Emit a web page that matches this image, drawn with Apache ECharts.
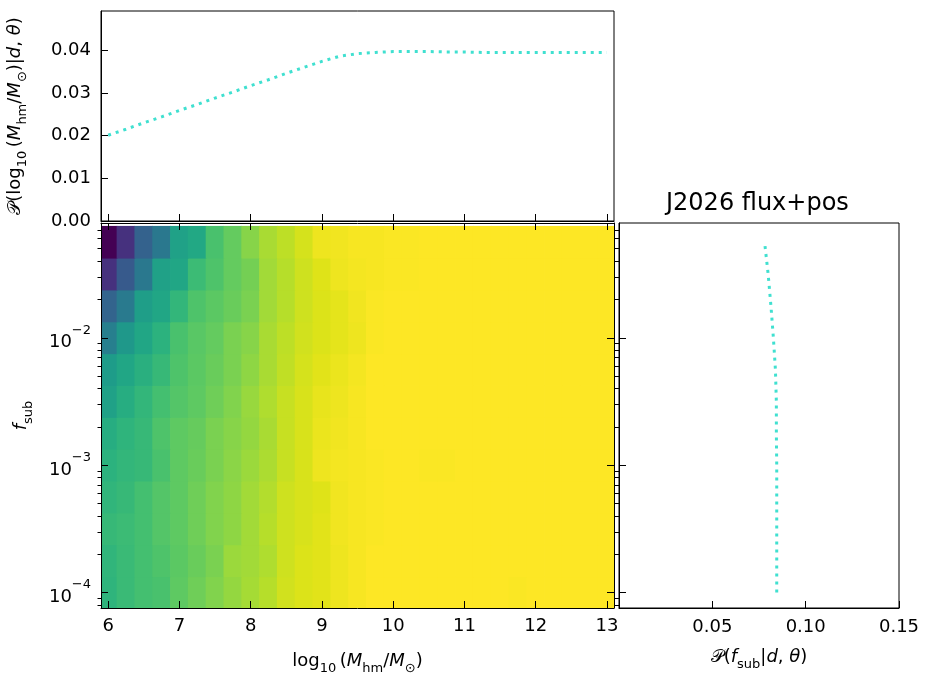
<!DOCTYPE html>
<html><head><meta charset="utf-8">
<script src="https://cdn.jsdelivr.net/npm/echarts@6/dist/echarts.min.js"></script>
<style>html,body{margin:0;padding:0;background:#fff}#c{width:926px;height:675px}</style>
</head><body><div id="c"></div>
<script>
// ---------------- data ----------------
const logMhmCenters = [6.00,6.25,6.50,6.75,7.00,7.25,7.50,7.75,8.00,8.25,8.50,8.75,9.00,9.25,9.50,9.75,10.00,10.25,10.50,10.75,11.00,11.25,11.50,11.75,12.00,12.25,12.50,12.75,13.00];
const log10FsubCenters = [-4.00,-3.75,-3.50,-3.25,-3.00,-2.75,-2.50,-2.25,-2.00,-1.75,-1.50,-1.25];
// heat rows, bottom (f_sub = 1e-4) to top
const heatRow0  = [0.65,0.675,0.70,0.71,0.75,0.78,0.81,0.84,0.865,0.89,0.93,0.945,0.955,0.975,0.99,1,1,1,1,1,1,1,1,0.995,1,1,1,1,1];
const heatRow1  = [0.655,0.675,0.70,0.72,0.745,0.77,0.80,0.85,0.86,0.88,0.925,0.945,0.955,0.975,0.99,1,1,1,1,1,1,1,1,1,1,1,1,1,1];
const heatRow2  = [0.67,0.68,0.70,0.73,0.75,0.78,0.81,0.83,0.86,0.89,0.925,0.94,0.955,0.98,0.99,0.995,1,1,1,1,1,1,1,1,1,1,1,1,1];
const heatRow3  = [0.655,0.67,0.70,0.73,0.75,0.78,0.81,0.83,0.86,0.885,0.925,0.94,0.95,0.98,0.99,0.995,1,1,1,1,1,1,1,1,1,1,1,1,1];
const heatRow4  = [0.64,0.66,0.67,0.71,0.75,0.77,0.80,0.825,0.85,0.875,0.915,0.94,0.975,0.985,0.99,0.995,1,1,0.995,0.995,1,1,1,1,1,1,1,1,1];
const heatRow5  = [0.62,0.65,0.67,0.72,0.75,0.765,0.80,0.82,0.84,0.87,0.915,0.94,0.97,0.98,0.99,1,1,1,1,1,1,1,1,1,1,1,1,1,1];
const heatRow6  = [0.57,0.62,0.66,0.70,0.73,0.75,0.78,0.81,0.845,0.88,0.915,0.94,0.965,0.975,0.99,1,1,1,1,1,1,1,1,1,1,1,1,1,1];
const heatRow7  = [0.55,0.59,0.63,0.67,0.72,0.745,0.77,0.80,0.83,0.87,0.905,0.935,0.955,0.97,0.985,1,1,1,1,1,1,1,1,1,1,1,1,1,1];
const heatRow8  = [0.43,0.53,0.59,0.64,0.71,0.74,0.76,0.80,0.82,0.87,0.90,0.93,0.945,0.96,0.975,0.995,1,1,1,1,1,1,1,1,1,1,1,1,1];
const heatRow9  = [0.32,0.41,0.56,0.59,0.66,0.72,0.745,0.77,0.80,0.86,0.89,0.925,0.945,0.96,0.98,0.995,1,1,1,1,1,1,1,1,1,1,1,1,1];
const heatRow10 = [0.14,0.28,0.40,0.57,0.59,0.68,0.72,0.76,0.79,0.86,0.89,0.925,0.95,0.975,0.985,0.99,0.995,0.995,1,1,1,1,1,1,1,1,1,1,1];
const heatRow11 = [0.00,0.14,0.31,0.40,0.57,0.60,0.71,0.76,0.82,0.87,0.90,0.935,0.975,0.98,0.99,0.99,0.995,0.995,1,1,1,1,1,1,1,1,1,1,1];
const heatRows = [heatRow0,heatRow1,heatRow2,heatRow3,heatRow4,heatRow5,heatRow6,heatRow7,heatRow8,heatRow9,heatRow10,heatRow11];

const pMhm = [0.0201,0.0215,0.0230,0.0244,0.0259,0.0273,0.0288,0.0302,0.0317,0.0331,0.0346,0.0360,0.0374,0.0386,0.0392,0.0395,0.0397,0.0397,0.0397,0.0396,0.0396,0.0395,0.0395,0.0395,0.0395,0.0395,0.0395,0.0395,0.0395];
const pFsub = [0.0845,0.0845,0.0845,0.0845,0.0845,0.0843,0.0843,0.0838,0.0827,0.0814,0.0799,0.0780];

const massTicks = [6,7,8,9,10,11,12,13];
const topYTicks = [0,0.01,0.02,0.03,0.04];
const fsubMajorTicks = [1e-4,1e-3,1e-2];
const fsubMinorTicks = [8e-5,9e-5,2e-4,3e-4,4e-4,5e-4,6e-4,7e-4,8e-4,9e-4,2e-3,3e-3,4e-3,5e-3,6e-3,7e-3,8e-3,9e-3,2e-2,3e-2,4e-2,5e-2,6e-2,7e-2];
const rightXTicks = [0.05,0.10,0.15];

// axis limits
const massMin = 5.9, massMax = 13.1;
const topYMax = 0.0492;
const logFMin = -4.121, logFMax = -1.099;
const rightXMax = 0.15;

const viridis = ['#440154','#471365','#482475','#463480','#414487','#3b528b','#355f8d','#2f6c8e','#2a788e','#25848e','#21918c','#1e9c89','#22a884','#2fb47c','#44bf70','#5ec962','#7ad151','#9bd93c','#bddf26','#dfe318','#fde725'];

// ---------------- build ----------------
const F = 'DejaVu Sans';
const TXT = '#000';
const cells = [];
heatRows.forEach((row, j) => row.forEach((v, i) => cells.push([logMhmCenters[i], log10FsubCenters[j], v])));
const hx = (logMhmCenters[1] - logMhmCenters[0]) / 2;
const hy = (log10FsubCenters[1] - log10FsubCenters[0]) / 2;

const lg = v => Math.log10(v);
const majorLog = fsubMajorTicks.map(lg);
const minorLog = fsubMinorTicks.map(lg);

const rich = {
  n: {fontFamily: F, fontSize: 18, color: TXT, lineHeight: 28, verticalAlign: 'middle'},
  i: {fontFamily: F, fontSize: 18, fontStyle: 'italic', color: TXT, lineHeight: 28, verticalAlign: 'middle'},
  s: {fontFamily: F, fontSize: 13, color: TXT, lineHeight: 13, verticalAlign: 'bottom'},
  b: {fontFamily: F, fontSize: 18, color: TXT, lineHeight: 28, verticalAlign: 'bottom'},
  e: {fontFamily: F, fontSize: 13, color: TXT, lineHeight: 14, verticalAlign: 'top'}
};
const axLine = {show: true, lineStyle: {color: '#000', width: 1}};
const noLine = {show: false};
const tickIn = vals => ({show: true, inside: true, length: 7, customValues: vals, lineStyle: {color: '#000', width: 1}});
const tickOut = vals => ({show: true, inside: false, length: 3.5, customValues: vals, lineStyle: {color: '#000', width: 1}});
const labelOff = {show: false};
const common = {splitLine: {show: false}, nameMoveOverlap: false};

const fsubLabel = v => {
  const e = Math.round(v);
  return '{b|10}{e|\u2212' + Math.abs(e) + '}';
};

const option = {
  animation: false,
  backgroundColor: '#fff',
  grid: [
    {left: 101, top: 11, width: 513, height: 210, show: true, borderColor: '#000', borderWidth: 1, backgroundColor: 'transparent', outerBoundsMode: 'none'},
    {left: 101, top: 223, width: 513, height: 385, show: false, outerBoundsMode: 'none'},
    {left: 619, top: 223, width: 280, height: 385, show: true, borderColor: '#000', borderWidth: 1, backgroundColor: 'transparent', outerBoundsMode: 'none'}
  ],
  visualMap: {show: false, type: 'continuous', min: 0, max: 1, dimension: 2, seriesIndex: 0, inRange: {color: viridis}},
  xAxis: [
    Object.assign({type: 'value', gridIndex: 0, position: 'bottom', min: massMin, max: massMax, axisLine: axLine, axisTick: tickIn(massTicks), axisLabel: labelOff}, common),
    Object.assign({type: 'value', gridIndex: 1, position: 'bottom', min: massMin, max: massMax, z: 10, axisLine: axLine, axisTick: tickIn(massTicks),
      axisLabel: {show: true, customValues: massTicks, margin: 9, fontFamily: F, fontSize: 18, color: TXT, formatter: v => String(Math.round(v))},
      name: '{n|log}{s|10}{n|\u2009(}{i|M}{s|hm}{n|/}{i|M}{s|\u2299}{n|)}', nameLocation: 'middle', nameGap: 39, nameTextStyle: {rich: rich}}, common),
    Object.assign({type: 'value', gridIndex: 1, position: 'top', min: massMin, max: massMax, z: 10, axisLine: axLine, axisTick: tickIn(massTicks), axisLabel: labelOff}, common),
    Object.assign({type: 'value', gridIndex: 2, position: 'bottom', min: 0, max: rightXMax, axisLine: axLine, axisTick: tickIn(rightXTicks),
      axisLabel: {show: true, customValues: rightXTicks, margin: 10, fontFamily: F, fontSize: 18, color: TXT, formatter: v => v.toFixed(2)},
      name: '{n|\uD835\uDCAB(}{i|f}{s|sub}{n||}{i|d}{n|, }{i|\u03b8}{n|)}', nameLocation: 'middle', nameGap: 35, nameTextStyle: {rich: rich}}, common)
  ],
  yAxis: [
    Object.assign({type: 'value', gridIndex: 0, position: 'left', min: 0, max: topYMax, axisLine: axLine, axisTick: tickIn(topYTicks),
      axisLabel: {show: true, customValues: topYTicks, margin: 10, fontFamily: F, fontSize: 18, color: TXT, formatter: v => v.toFixed(2)},
      name: '{n|\uD835\uDCAB(log}{s|10}{n|\u2009(}{i|M}{s|hm}{n|/}{i|M}{s|\u2299}{n|)|}{i|d}{n|, }{i|\u03b8}{n|)}', nameLocation: 'middle', nameRotate: 90, nameGap: 72, nameTextStyle: {rich: rich}}, common),
    Object.assign({type: 'value', gridIndex: 1, position: 'left', min: logFMin, max: logFMax, z: 10, axisLine: axLine, axisTick: tickIn(majorLog),
      axisLabel: {show: true, customValues: majorLog, margin: 10, formatter: fsubLabel, rich: rich},
      name: '{i|f}{s|sub}', nameLocation: 'middle', nameRotate: 90, nameGap: 66, nameTextStyle: {rich: rich}}, common),
    Object.assign({type: 'value', gridIndex: 1, position: 'right', min: logFMin, max: logFMax, z: 10, axisLine: axLine, axisTick: tickIn(majorLog), axisLabel: labelOff}, common),
    Object.assign({type: 'value', gridIndex: 1, position: 'left', min: logFMin, max: logFMax, z: 10, axisLine: noLine, axisTick: tickOut(minorLog), axisLabel: labelOff}, common),
    Object.assign({type: 'value', gridIndex: 1, position: 'right', min: logFMin, max: logFMax, z: 10, axisLine: noLine, axisTick: tickOut(minorLog), axisLabel: labelOff}, common),
    Object.assign({type: 'value', gridIndex: 2, position: 'left', min: logFMin, max: logFMax, axisLine: axLine, axisTick: tickIn(majorLog), axisLabel: labelOff}, common),
    Object.assign({type: 'value', gridIndex: 2, position: 'right', min: logFMin, max: logFMax, axisLine: noLine, axisTick: {show: false}, axisLabel: labelOff}, common),
    Object.assign({type: 'value', gridIndex: 2, position: 'left', min: logFMin, max: logFMax, axisLine: noLine, axisTick: tickOut(minorLog), axisLabel: labelOff}, common)
  ],
  graphic: [
    {type: 'text', left: 758 - 92, top: 192, style: {text: 'J2026 flux+pos', fontFamily: F, fontSize: 24, fill: TXT}}
  ],
  series: [
    {
      type: 'custom', xAxisIndex: 1, yAxisIndex: 1, z: 2,
      data: cells,
      renderItem: function (params, api) {
        const x = api.value(0), y = api.value(1);
        const p0 = api.coord([x - hx, y + hy]);
        const p1 = api.coord([x + hx, y - hy]);
        const r = echarts.graphic.clipRectByRect(
          {x: p0[0] - 0.4, y: p0[1] - 0.4, width: p1[0] - p0[0] + 0.8, height: p1[1] - p0[1] + 0.8},
          {x: params.coordSys.x, y: params.coordSys.y, width: params.coordSys.width, height: params.coordSys.height});
        if (!r) return null;
        return {type: 'rect', shape: r, style: {fill: api.visual('color'), stroke: null}};
      }
    },
    {
      type: 'line', xAxisIndex: 0, yAxisIndex: 0, symbol: 'none', silent: true,
      data: logMhmCenters.map((x, i) => [x, pMhm[i]]),
      lineStyle: {color: '#40e0d0', width: 3, type: [3, 5]}
    },
    {
      type: 'line', xAxisIndex: 3, yAxisIndex: 5, symbol: 'none', silent: true,
      data: log10FsubCenters.map((y, j) => [pFsub[j], y]),
      lineStyle: {color: '#40e0d0', width: 3, type: [3, 5]}
    }
  ]
};
const chart = echarts.init(document.getElementById('c'), null, {renderer: 'canvas'});
chart.setOption(option);
</script>
</body></html>
